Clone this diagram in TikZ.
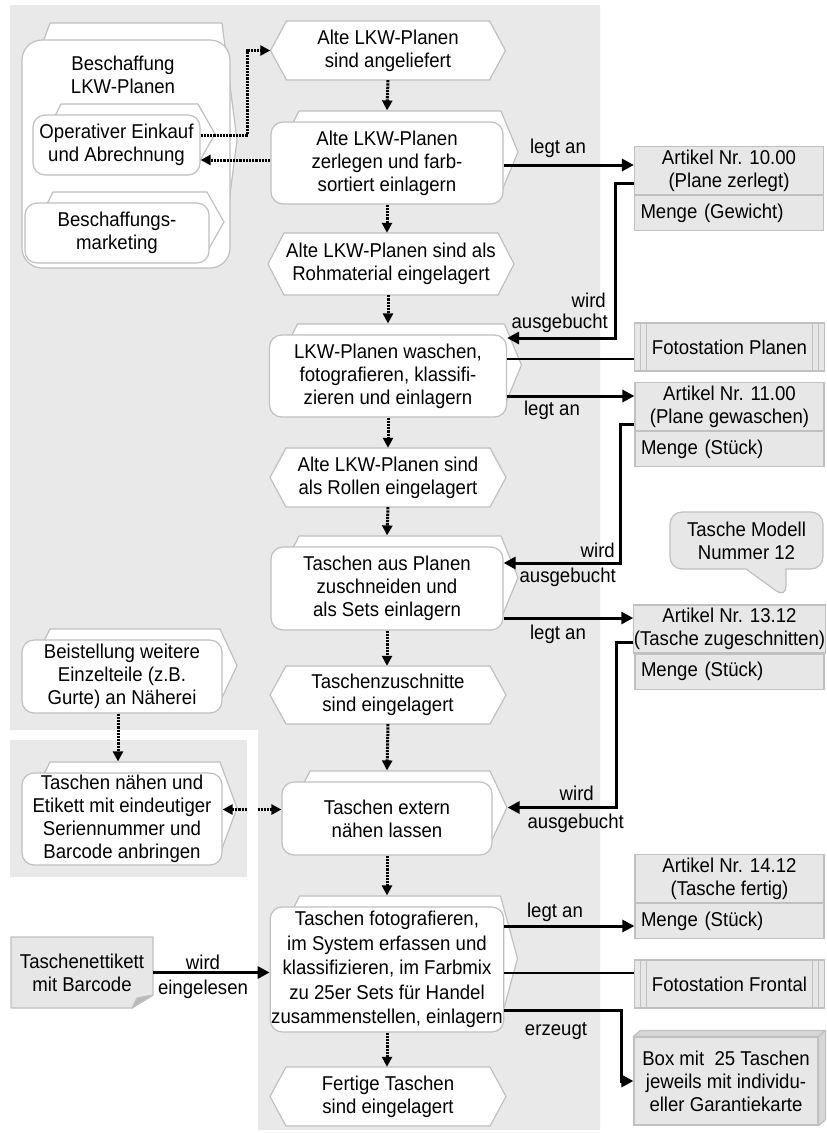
\documentclass[tikz,border=0pt]{standalone}
\usepackage{fontspec}
\setmainfont{Liberation Sans}[FakeStretch=0.93]
\usetikzlibrary{positioning,arrows.meta,shapes.callouts}
\definecolor{laneGrey}{RGB}{233,233,233}
\definecolor{edgeGrey}{RGB}{192,192,192}
\definecolor{boxGrey}{RGB}{231,231,231}
\newcommand{\bodyFont}{\fontsize{20}{23}\selectfont}
\newcommand{\procNode}[6]{%%
  %% Draw the folded back shape.
  \draw[backStyle] (#2-#4/2+20,#3-#5/2+5) -- (#2-#4/2+28,#3-#5/2-11)
  -- (#2+#4/2-2,#3-#5/2-11) -- (#2+#4/2+15,#3-11) -- (#2+#4/2-2,#3+#5/2-11)
  -- (#2-#4/2+20,#3+#5/2-11) -- cycle;
  %% Draw the front box.
  \node[procStyle, minimum width=#4, minimum height=#5] (#1) at (#2,#3) {#6};
}
\newcommand{\eventNode}[6]{%%
  %% Draw the hexagon.
  \draw[eventStyle] (#2-#4/2,#3) -- (#2-#4/2+16,#3-#5/2) -- (#2+#4/2-16,#3-#5/2)
  -- (#2+#4/2,#3) -- (#2+#4/2-16,#3+#5/2) -- (#2-#4/2+16,#3+#5/2) -- cycle;
  %% Put the text on it.
  \node[textStyle, minimum width=#4, minimum height=#5] (#1) at (#2,#3) {#6};
}

\begin{document}
\begin{tikzpicture}[%%
  x=1pt, y=-1pt,
  procStyle/.style={draw=edgeGrey, line width=1.2pt, fill=white,
    rounded corners=12pt, align=center, inner sep=1pt, font=\bodyFont},
  backStyle/.style={draw=edgeGrey, line width=1.2pt, fill=white, line join=round},
  eventStyle/.style={draw=edgeGrey, line width=1.2pt, fill=white},
  textStyle/.style={align=center, inner sep=1pt, font=\bodyFont},
  labelStyle/.style={inner sep=0pt, font=\bodyFont},
  artTop/.style={draw=edgeGrey, line width=1.2pt, fill=boxGrey, minimum width=189,
    minimum height=48, align=center, inner sep=0pt, font=\bodyFont},
  artBot/.style={draw=edgeGrey, line width=1.2pt, fill=boxGrey, minimum width=189,
    minimum height=35, text width=177, align=left, inner xsep=6pt, inner ysep=0pt,
    font=\bodyFont},
  fotoStyle/.style={draw=edgeGrey, line width=1.2pt, fill=boxGrey, minimum width=190,
    minimum height=48, inner sep=0pt, font=\bodyFont,
    path picture={
      \foreach \dx in {6,12} {
        \draw[edgeGrey, line width=0.8pt]
          ([xshift=\dx pt]path picture bounding box.north west)
          -- ([xshift=\dx pt]path picture bounding box.south west);
        \draw[edgeGrey, line width=0.8pt]
          ([xshift=-\dx pt]path picture bounding box.north east)
          -- ([xshift=-\dx pt]path picture bounding box.south east);
      }
    }},
  bubbleStyle/.style={rectangle callout, draw=edgeGrey, line width=1.2pt, fill=boxGrey,
    rounded corners=12pt, minimum width=153, minimum height=57, align=center,
    inner sep=0pt, font=\bodyFont, callout pointer width=40pt},
  boxStyle/.style={draw=edgeGrey, line width=1.2pt, fill=boxGrey, minimum width=184,
    minimum height=88, align=center, inner sep=0pt, font=\bodyFont},
  boxFace/.style={draw=edgeGrey, line width=1.2pt, fill=boxGrey!93!black, line join=round},
  docStyle/.style={draw=edgeGrey, line width=1.2pt, fill=boxGrey, line join=round},
  flowArrow/.style={-{Triangle[length=12pt,width=12pt]}, line width=3pt},
  dotArrow/.style={-{Triangle[length=10pt,width=10pt]}, line width=3pt,
    dash pattern=on 2.2pt off 1pt},
  dotBoth/.style={{Triangle[length=10pt,width=10pt]}-{Triangle[length=10pt,width=10pt]},
    line width=3pt, dash pattern=on 2.2pt off 1pt},
  thinLine/.style={line width=1.6pt}
]
\useasboundingbox (0,0) rectangle (827,1133);
%%
%% Grey lanes.
\fill[laneGrey] (10,5) -- (600,5) -- (600,1130) -- (258,1130) -- (258,730)
  -- (10,730) -- cycle;
\fill[laneGrey] (10,740) rectangle (247,877);
%%
%% Procurement group on the left.
\draw[backStyle] (42,45) -- (50,23) -- (222,23) -- (237,140) -- (222,257)
  -- (42,257) -- cycle;
\node[procStyle, rounded corners=20pt, minimum width=208, minimum height=228]
  (beschaffung) at (126,154) {};
\node[textStyle] (beschaffungLbl) at (123,75) {Beschaffung\\LKW-Planen};
\procNode{oper}{116.5}{145}{167}{60}{Operativer Einkauf\\und Abrechnung}
\procNode{marketing}{117}{233}{184}{60}{Beschaffungs-\\marketing}
%%
%% Main process column.
\eventNode{alt1}{388}{50.5}{235}{59}{Alte LKW-Planen\\sind angeliefert}
\procNode{zerlegen}{387}{163}{232}{82}{Alte LKW-Planen\\zerlegen und farb-\\sortiert einlagern}
\eventNode{alt2}{391}{264}{246}{62}{Alte LKW-Planen sind als\\Rohmaterial eingelagert}
\procNode{waschen}{388}{376}{237}{82}{LKW-Planen waschen,\\fotografieren, klassifi-\\zieren und einlagern}
\eventNode{alt3}{388}{477.5}{236}{59}{Alte LKW-Planen sind\\als Rollen eingelagert}
\procNode{zuschneiden}{387}{588.5}{232}{83}{Taschen aus Planen\\zuschneiden und\\als Sets einlagern}
\eventNode{zuschnitte}{388}{695}{236}{58}{Taschenzuschnitte\\sind eingelagert}
\procNode{extern}{387}{818.5}{210}{73}{Taschen extern\\nähen lassen}
\procNode{erfassen}{387}{969.5}{231}{125}{Taschen fotografieren,\\[1.5pt]
  im System erfassen und\\[1.5pt] klassifizieren, im Farbmix\\[1.5pt]
  zu 25er Sets für Handel\\[1.5pt] zusammenstellen, einlagern}
\eventNode{fertig}{388}{1096.5}{236}{59}{Fertige Taschen\\sind eingelagert}
%%
%% Sewing on the left.
\procNode{beistellung}{122}{676.5}{200}{73}{Beistellung weitere\\Einzelteile (z.B.\\Gurte) an Näherei}
\procNode{naehen}{122}{819}{200}{92}{Taschen nähen und\\Etikett mit eindeutiger\\Seriennummer und\\Barcode anbringen}
%%
%% Label document.
\draw[docStyle] (11,937) -- (153,937) -- (153,995) -- (132,1008) -- (11,1008) -- cycle;
\draw[docStyle, fill=boxGrey!80!black] (153,995) -- (137,998) -- (132,1008) -- cycle;
\node[textStyle, minimum width=142, minimum height=71] (etikett) at (82,972.5)
  {Taschenettikett\\mit Barcode};
%%
%% Articles and resources on the right.
\node[artTop] (art1) at (729,170.5) {Artikel Nr. 10.00\\(Plane zerlegt)};
\node[artBot, below=0pt of art1] (art1m) {Menge (Gewicht)};
\node[fotoStyle] (foto1) at (729.5,347) {Fotostation Planen};
\node[artTop] (art2) at (729.5,406.5) {Artikel Nr. 11.00\\(Plane gewaschen)};
\node[artBot, below=0pt of art2] (art2m) {Menge (Stück)};
\node[bubbleStyle, callout absolute pointer={(786,598)}] (modell) at (746.5,540.5)
  {Tasche Modell\\Nummer 12};
\node[artTop] (art3) at (729.5,629) {Artikel Nr. 13.12\\(Tasche zugeschnitten)};
\node[artBot, below=0pt of art3] (art3m) {Menge (Stück)};
\node[artTop] (art4) at (729.5,878.5) {Artikel Nr. 14.12\\(Tasche fertig)};
\node[artBot, below=0pt of art4] (art4m) {Menge (Stück)};
\node[fotoStyle] (foto2) at (729.5,984) {Fotostation Frontal};
\node[boxStyle] (box) at (726,1081)
  {Box mit~ 25 Taschen\\jeweils mit individu-\\eller Garantiekarte};
\draw[boxFace] (box.north west) -- ++(7,-6) -- ([xshift=7pt,yshift=6pt]box.north east)
  -- (box.north east) -- cycle;
\draw[boxFace] (box.north east) -- ++(7,-6) -- ([xshift=7pt,yshift=6pt]box.south east)
  -- (box.south east) -- cycle;
%%
%% Dotted control flow.
\draw[dotArrow] (alt1.south) -- ([yshift=11pt]zerlegen.north);
\draw[dotArrow] (zerlegen.south) -- (zerlegen.south |- alt2.north);
\draw[dotArrow] (waschen.north |- alt2.south) -- ([yshift=11pt]waschen.north);
\draw[dotArrow] (waschen.south) -- (waschen.south |- alt3.north);
\draw[dotArrow] (alt3.south) -- ([yshift=11pt]zuschneiden.north);
\draw[dotArrow] (zuschneiden.south) -- (zuschneiden.south |- zuschnitte.north);
\draw[dotArrow] (zuschnitte.south) -- ([yshift=11pt]extern.north);
\draw[dotArrow] (extern.south) -- ([yshift=11pt]erfassen.north);
\draw[dotArrow] (erfassen.south) -- (erfassen.south |- fertig.north);
\draw[dotArrow] ([yshift=10pt]oper.east) -- ++(47,0) |- (alt1.west);
\draw[dotArrow] ([yshift=3pt]zerlegen.west) -- ([yshift=3pt]zerlegen.west -| oper.east);
\draw[dotArrow] ([xshift=-4pt]beistellung.south)
  -- ([xshift=-4pt,yshift=11pt]beistellung.south |- naehen.north);
\draw[dotBoth] ([yshift=9pt]extern.west -| naehen.east) -- ([yshift=9pt]extern.west);
%%
%% Postings to the articles.
\draw[flowArrow] ([yshift=-2pt]zerlegen.east) -- ([yshift=-2pt]zerlegen.east -| art1.west);
\draw[flowArrow] ([yshift=-12.5pt]art1.west) -- ++(-18,0) |- ([yshift=38pt]waschen.east);
\draw[thinLine] ([yshift=17pt]waschen.east) -- ([yshift=17pt]waschen.east -| foto1.west);
\draw[flowArrow] ([yshift=-20pt]waschen.east) -- ([yshift=-20pt]waschen.east -| art2.west);
\draw[flowArrow] ([yshift=-17.5pt]art2.west) -- ++(-14,0) |- ([yshift=25.5pt]zuschneiden.east);
\draw[flowArrow] ([yshift=-29.5pt]zuschneiden.east)
  -- ([yshift=-29.5pt]zuschneiden.east -| art3.west);
\draw[flowArrow] ([yshift=-13pt]art3.west) -- ++(-17,0)
  |- ([xshift=15pt,yshift=11pt]extern.east);
\draw[flowArrow] ([yshift=43.5pt]erfassen.east) -- ([yshift=43.5pt]erfassen.east -| art4m.west);
\draw[thinLine] ([yshift=-3.5pt]erfassen.east) -- ([yshift=-3.5pt]erfassen.east -| foto2.west);
\draw[flowArrow] ([yshift=-40.5pt]erfassen.east) -- ++(117,0) |- (box.west);
\draw[flowArrow] (etikett.east) -- (etikett.east -| erfassen.west);
%%
%% Connector labels.
\node[labelStyle] (legtAnA) at (558,148) {legt an};
\node[labelStyle, anchor=east] (wirdA) at (606,300) {wird};
\node[labelStyle, anchor=east] (ausgebuchtA) at (608,323) {ausgebucht};
\node[labelStyle] (legtAnB) at (552,410) {legt an};
\node[labelStyle, anchor=east] (wirdB) at (615,550) {wird};
\node[labelStyle, anchor=east] (ausgebuchtB) at (616,577) {ausgebucht};
\node[labelStyle] (legtAnC) at (558,634) {legt an};
\node[labelStyle, anchor=east] (wirdC) at (594,793) {wird};
\node[labelStyle, anchor=east] (ausgebuchtC) at (624,823) {ausgebucht};
\node[labelStyle] (legtAnD) at (555,912) {legt an};
\node[labelStyle] (erzeugt) at (556,1031) {erzeugt};
\node[labelStyle] (wirdE) at (203,962) {wird};
\node[labelStyle] (eingelesen) at (203,989) {eingelesen};
%%
%% White gap between the lanes.
\fill[white] (247,730) rectangle (258,877);

\end{tikzpicture}
\end{document}
